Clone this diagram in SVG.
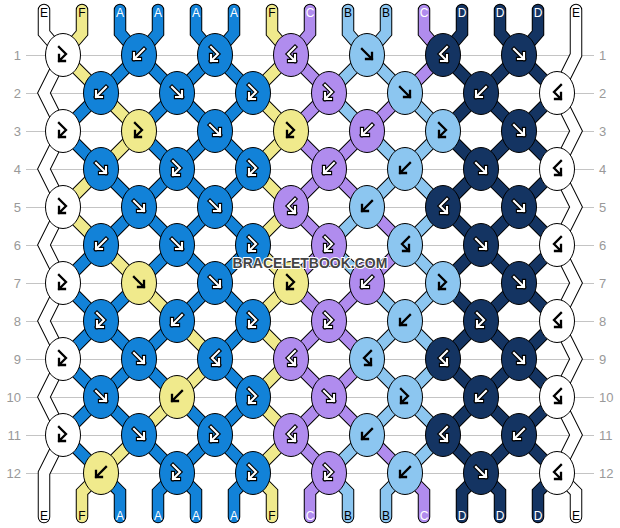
<svg xmlns="http://www.w3.org/2000/svg" xmlns:xlink="http://www.w3.org/1999/xlink" width="620" height="528" viewBox="0 0 620 528">
<style>
.grid{stroke:#c4c4c4;stroke-width:1;fill:none}
.num{font-family:"Liberation Sans",Arial,sans-serif;font-size:13px;fill:#999}
.o{fill:none;stroke:#000;stroke-width:12.5;stroke-linejoin:miter;stroke-linecap:round}
.s{fill:none;stroke-width:10.5;stroke-linejoin:miter;stroke-linecap:round}
.cE{stroke:#ffffff}.cF{stroke:#F0EA8C}.cA{stroke:#1282D8}.cB{stroke:#8CC6F0}.cC{stroke:#B08CEE}.cD{stroke:#143462}
.kE{fill:#ffffff}.kF{fill:#F0EA8C}.kA{fill:#1282D8}.kB{fill:#8CC6F0}.kC{fill:#B08CEE}.kD{fill:#143462}
.ab{fill:none;stroke:#000;stroke-width:2.3;stroke-linecap:square;stroke-linejoin:miter}
.ao{fill:none;stroke:#000;stroke-width:4.3;stroke-linecap:square;stroke-linejoin:miter}
.aw{fill:none;stroke:#fff;stroke-width:2.1;stroke-linecap:square;stroke-linejoin:miter}
.lb{font-family:"Liberation Sans",Arial,sans-serif;font-size:12px;text-anchor:middle}
.lk{fill:#000}.lw{fill:#fff}
.wm{font-family:"Liberation Sans",Arial,sans-serif;font-weight:bold;font-size:14px;text-anchor:middle;fill:#444;stroke:#fff;stroke-width:2;paint-order:stroke;stroke-linejoin:round}
</style>
<defs>
<ellipse id="ov" rx="17.5" ry="21.5" stroke="#000" stroke-width="1"/>
<path id="f" d="M-5 -6L5 4M5 -2V4H-1"/>
<path id="b" d="M5 -6L-5 4M-5 -2V4H1"/>
<path id="fb" d="M-4 -8L3 -1L-4 6M-4 0V6H2"/>
<path id="bf" d="M4 -8L-3 -1L4 6M4 0V6H-2"/>
<g id="Kf"><use href="#f" class="ab"/></g>
<g id="Kb"><use href="#b" class="ab"/></g>
<g id="Kfb"><use href="#fb" class="ab"/></g>
<g id="Kbf"><use href="#bf" class="ab"/></g>
<g id="Wf"><use href="#f" class="ao"/><use href="#f" class="aw"/></g>
<g id="Wb"><use href="#b" class="ao"/><use href="#b" class="aw"/></g>
<g id="Wfb"><use href="#fb" class="ao"/><use href="#fb" class="aw"/></g>
<g id="Wbf"><use href="#bf" class="ao"/><use href="#bf" class="aw"/></g>
</defs>
<rect width="620" height="528" fill="#fff"/>
<g id="grid">
<path class="grid" d="M26 55.5H594M26 93.5H594M26 131.5H594M26 169.5H594M26 207.5H594M26 245.5H594M26 283.5H594M26 321.5H594M26 359.5H594M26 397.5H594M26 435.5H594M26 473.5H594"/>
<g class="num" text-anchor="end">
<text x="21" y="60">1</text><text x="21" y="98">2</text><text x="21" y="136">3</text><text x="21" y="174">4</text><text x="21" y="212">5</text><text x="21" y="250">6</text><text x="21" y="288">7</text><text x="21" y="326">8</text><text x="21" y="364">9</text><text x="21" y="402">10</text><text x="21" y="440">11</text><text x="21" y="478">12</text>
</g>
<g class="num">
<text x="599" y="60">1</text><text x="599" y="98">2</text><text x="599" y="136">3</text><text x="599" y="174">4</text><text x="599" y="212">5</text><text x="599" y="250">6</text><text x="599" y="288">7</text><text x="599" y="326">8</text><text x="599" y="364">9</text><text x="599" y="402">10</text><text x="599" y="440">11</text><text x="599" y="478">12</text>
</g>
</g>
<g id="connectors">
<g class="o">
<path d="M44 10V33L63 55L44 93L63 131L44 169L63 207L44 245L63 283L44 321L63 359L44 397L63 435L44 473V517"/>
<path d="M82 10V33L63 55L101 93L139 131L101 169L63 207L101 245L139 283L177 321L215 359L177 397L139 435L101 473L82 492V517"/>
<path d="M120 10V33L139 55L177 93L215 131L253 169L215 207L177 245L139 283L101 321L139 359L177 397L215 435L177 473L196 492V517"/>
<path d="M158 10V33L139 55L101 93L63 131L101 169L139 207L177 245L215 283L253 321L215 359L253 397L215 435L253 473L234 492V517"/>
<path d="M196 10V33L215 55L177 93L139 131L177 169L139 207L101 245L63 283L101 321L63 359L101 397L139 435L177 473L158 492V517"/>
<path d="M234 10V33L215 55L253 93L215 131L177 169L215 207L253 245L215 283L177 321L139 359L101 397L63 435L101 473L120 492V517"/>
<path d="M272 10V33L291 55L253 93L291 131L253 169L291 207L253 245L291 283L253 321L291 359L253 397L291 435L253 473L272 492V517"/>
<path d="M310 10V33L291 55L329 93L291 131L329 169L367 207L405 245L367 283L329 321L367 359L329 397L291 435L329 473L310 492V517"/>
<path d="M348 10V33L367 55L405 93L443 131L405 169L367 207L329 245L367 283L405 321L443 359L405 397L443 435L405 473L386 492V517"/>
<path d="M386 10V33L367 55L329 93L367 131L405 169L443 207L405 245L443 283L405 321L367 359L405 397L367 435L329 473L348 492V517"/>
<path d="M424 10V33L443 55L405 93L367 131L329 169L291 207L329 245L291 283L329 321L291 359L329 397L367 435L405 473L424 492V517"/>
<path d="M462 10V33L443 55L481 93L519 131L557 169L519 207L481 245L443 283L481 321L443 359L481 397L519 435L557 473L538 492V517"/>
<path d="M500 10V33L519 55L557 93L519 131L481 169L443 207L481 245L519 283L557 321L519 359L481 397L443 435L481 473L500 492V517"/>
<path d="M538 10V33L519 55L481 93L443 131L481 169L519 207L557 245L519 283L481 321L519 359L557 397L519 435L481 473L462 492V517"/>
<path d="M576 10V55L557 93L576 131L557 169L576 207L557 245L576 283L557 321L576 359L557 397L576 435L557 473L576 492V517"/>
</g>
<path class="s cE" d="M44 10V33L63 55L44 93L63 131L44 169L63 207L44 245L63 283L44 321L63 359L44 397L63 435L44 473V517"/>
<path class="s cF" d="M82 10V33L63 55L101 93L139 131L101 169L63 207L101 245L139 283L177 321L215 359L177 397L139 435L101 473L82 492V517"/>
<path class="s cA" d="M120 10V33L139 55L177 93L215 131L253 169L215 207L177 245L139 283L101 321L139 359L177 397L215 435L177 473L196 492V517"/>
<path class="s cA" d="M158 10V33L139 55L101 93L63 131L101 169L139 207L177 245L215 283L253 321L215 359L253 397L215 435L253 473L234 492V517"/>
<path class="s cA" d="M196 10V33L215 55L177 93L139 131L177 169L139 207L101 245L63 283L101 321L63 359L101 397L139 435L177 473L158 492V517"/>
<path class="s cA" d="M234 10V33L215 55L253 93L215 131L177 169L215 207L253 245L215 283L177 321L139 359L101 397L63 435L101 473L120 492V517"/>
<path class="s cF" d="M272 10V33L291 55L253 93L291 131L253 169L291 207L253 245L291 283L253 321L291 359L253 397L291 435L253 473L272 492V517"/>
<path class="s cC" d="M310 10V33L291 55L329 93L291 131L329 169L367 207L405 245L367 283L329 321L367 359L329 397L291 435L329 473L310 492V517"/>
<path class="s cB" d="M348 10V33L367 55L405 93L443 131L405 169L367 207L329 245L367 283L405 321L443 359L405 397L443 435L405 473L386 492V517"/>
<path class="s cB" d="M386 10V33L367 55L329 93L367 131L405 169L443 207L405 245L443 283L405 321L367 359L405 397L367 435L329 473L348 492V517"/>
<path class="s cC" d="M424 10V33L443 55L405 93L367 131L329 169L291 207L329 245L291 283L329 321L291 359L329 397L367 435L405 473L424 492V517"/>
<path class="s cD" d="M462 10V33L443 55L481 93L519 131L557 169L519 207L481 245L443 283L481 321L443 359L481 397L519 435L557 473L538 492V517"/>
<path class="s cD" d="M500 10V33L519 55L557 93L519 131L481 169L443 207L481 245L519 283L557 321L519 359L481 397L443 435L481 473L500 492V517"/>
<path class="s cD" d="M538 10V33L519 55L481 93L443 131L481 169L519 207L557 245L519 283L481 321L519 359L557 397L519 435L481 473L462 492V517"/>
<path class="s cE" d="M576 10V55L557 93L576 131L557 169L576 207L557 245L576 283L557 321L576 359L557 397L576 435L557 473L576 492V517"/>
</g>
<g id="labels" class="lb">
<text class="lk" x="44" y="17">E</text><text class="lk" x="82" y="17">F</text><text class="lw" x="120" y="17">A</text><text class="lw" x="158" y="17">A</text><text class="lw" x="196" y="17">A</text><text class="lw" x="234" y="17">A</text><text class="lk" x="272" y="17">F</text><text class="lw" x="310" y="17">C</text><text class="lk" x="348" y="17">B</text><text class="lk" x="386" y="17">B</text><text class="lw" x="424" y="17">C</text><text class="lw" x="462" y="17">D</text><text class="lw" x="500" y="17">D</text><text class="lw" x="538" y="17">D</text><text class="lk" x="576" y="17">E</text>
<text class="lk" x="44" y="520">E</text><text class="lk" x="82" y="520">F</text><text class="lw" x="120" y="520">A</text><text class="lw" x="158" y="520">A</text><text class="lw" x="196" y="520">A</text><text class="lw" x="234" y="520">A</text><text class="lk" x="272" y="520">F</text><text class="lw" x="310" y="520">C</text><text class="lk" x="348" y="520">B</text><text class="lk" x="386" y="520">B</text><text class="lw" x="424" y="520">C</text><text class="lw" x="462" y="520">D</text><text class="lw" x="500" y="520">D</text><text class="lw" x="538" y="520">D</text><text class="lk" x="576" y="520">E</text>
</g>
<g id="knots">
<g id="r1k1" transform="translate(63 55)"><use href="#ov" class="kE"/><use href="#Kfb"/></g>
<g id="r1k2" transform="translate(139 55)"><use href="#ov" class="kA"/><use href="#Wb"/></g>
<g id="r1k3" transform="translate(215 55)"><use href="#ov" class="kA"/><use href="#Wfb"/></g>
<g id="r1k4" transform="translate(291 55)"><use href="#ov" class="kC"/><use href="#Wbf"/></g>
<g id="r1k5" transform="translate(367 55)"><use href="#ov" class="kB"/><use href="#Kf"/></g>
<g id="r1k6" transform="translate(443 55)"><use href="#ov" class="kD"/><use href="#Wbf"/></g>
<g id="r1k7" transform="translate(519 55)"><use href="#ov" class="kD"/><use href="#Wf"/></g>

<g id="r2k1" transform="translate(101 93)"><use href="#ov" class="kA"/><use href="#Wb"/></g>
<g id="r2k2" transform="translate(177 93)"><use href="#ov" class="kA"/><use href="#Wf"/></g>
<g id="r2k3" transform="translate(253 93)"><use href="#ov" class="kA"/><use href="#Wfb"/></g>
<g id="r2k4" transform="translate(329 93)"><use href="#ov" class="kC"/><use href="#Wfb"/></g>
<g id="r2k5" transform="translate(405 93)"><use href="#ov" class="kB"/><use href="#Kf"/></g>
<g id="r2k6" transform="translate(481 93)"><use href="#ov" class="kD"/><use href="#Wb"/></g>
<g id="r2k7" transform="translate(557 93)"><use href="#ov" class="kE"/><use href="#Kbf"/></g>

<g id="r3k1" transform="translate(63 131)"><use href="#ov" class="kE"/><use href="#Kfb"/></g>
<g id="r3k2" transform="translate(139 131)"><use href="#ov" class="kF"/><use href="#Kfb"/></g>
<g id="r3k3" transform="translate(215 131)"><use href="#ov" class="kA"/><use href="#Wf"/></g>
<g id="r3k4" transform="translate(291 131)"><use href="#ov" class="kF"/><use href="#Kfb"/></g>
<g id="r3k5" transform="translate(367 131)"><use href="#ov" class="kC"/><use href="#Wb"/></g>
<g id="r3k6" transform="translate(443 131)"><use href="#ov" class="kB"/><use href="#Kfb"/></g>
<g id="r3k7" transform="translate(519 131)"><use href="#ov" class="kD"/><use href="#Wf"/></g>

<g id="r4k1" transform="translate(101 169)"><use href="#ov" class="kA"/><use href="#Wf"/></g>
<g id="r4k2" transform="translate(177 169)"><use href="#ov" class="kA"/><use href="#Wfb"/></g>
<g id="r4k3" transform="translate(253 169)"><use href="#ov" class="kA"/><use href="#Wfb"/></g>
<g id="r4k4" transform="translate(329 169)"><use href="#ov" class="kC"/><use href="#Wb"/></g>
<g id="r4k5" transform="translate(405 169)"><use href="#ov" class="kB"/><use href="#Kb"/></g>
<g id="r4k6" transform="translate(481 169)"><use href="#ov" class="kD"/><use href="#Wf"/></g>
<g id="r4k7" transform="translate(557 169)"><use href="#ov" class="kE"/><use href="#Kbf"/></g>

<g id="r5k1" transform="translate(63 207)"><use href="#ov" class="kE"/><use href="#Kfb"/></g>
<g id="r5k2" transform="translate(139 207)"><use href="#ov" class="kA"/><use href="#Wf"/></g>
<g id="r5k3" transform="translate(215 207)"><use href="#ov" class="kA"/><use href="#Wf"/></g>
<g id="r5k4" transform="translate(291 207)"><use href="#ov" class="kC"/><use href="#Wbf"/></g>
<g id="r5k5" transform="translate(367 207)"><use href="#ov" class="kB"/><use href="#Kb"/></g>
<g id="r5k6" transform="translate(443 207)"><use href="#ov" class="kD"/><use href="#Wbf"/></g>
<g id="r5k7" transform="translate(519 207)"><use href="#ov" class="kD"/><use href="#Wf"/></g>

<g id="r6k1" transform="translate(101 245)"><use href="#ov" class="kA"/><use href="#Wb"/></g>
<g id="r6k2" transform="translate(177 245)"><use href="#ov" class="kA"/><use href="#Wf"/></g>
<g id="r6k3" transform="translate(253 245)"><use href="#ov" class="kA"/><use href="#Wfb"/></g>
<g id="r6k4" transform="translate(329 245)"><use href="#ov" class="kC"/><use href="#Wfb"/></g>
<g id="r6k5" transform="translate(405 245)"><use href="#ov" class="kB"/><use href="#Kbf"/></g>
<g id="r6k6" transform="translate(481 245)"><use href="#ov" class="kD"/><use href="#Wf"/></g>
<g id="r6k7" transform="translate(557 245)"><use href="#ov" class="kE"/><use href="#Kbf"/></g>

<g id="r7k1" transform="translate(63 283)"><use href="#ov" class="kE"/><use href="#Kfb"/></g>
<g id="r7k2" transform="translate(139 283)"><use href="#ov" class="kF"/><use href="#Kf"/></g>
<g id="r7k3" transform="translate(215 283)"><use href="#ov" class="kA"/><use href="#Wf"/></g>
<g id="r7k4" transform="translate(291 283)"><use href="#ov" class="kF"/><use href="#Kfb"/></g>
<g id="r7k5" transform="translate(367 283)"><use href="#ov" class="kC"/><use href="#Wb"/></g>
<g id="r7k6" transform="translate(443 283)"><use href="#ov" class="kB"/><use href="#Kfb"/></g>
<g id="r7k7" transform="translate(519 283)"><use href="#ov" class="kD"/><use href="#Wf"/></g>

<g id="r8k1" transform="translate(101 321)"><use href="#ov" class="kA"/><use href="#Wfb"/></g>
<g id="r8k2" transform="translate(177 321)"><use href="#ov" class="kA"/><use href="#Wb"/></g>
<g id="r8k3" transform="translate(253 321)"><use href="#ov" class="kA"/><use href="#Wfb"/></g>
<g id="r8k4" transform="translate(329 321)"><use href="#ov" class="kC"/><use href="#Wfb"/></g>
<g id="r8k5" transform="translate(405 321)"><use href="#ov" class="kB"/><use href="#Kb"/></g>
<g id="r8k6" transform="translate(481 321)"><use href="#ov" class="kD"/><use href="#Wfb"/></g>
<g id="r8k7" transform="translate(557 321)"><use href="#ov" class="kE"/><use href="#Kbf"/></g>

<g id="r9k1" transform="translate(63 359)"><use href="#ov" class="kE"/><use href="#Kfb"/></g>
<g id="r9k2" transform="translate(139 359)"><use href="#ov" class="kA"/><use href="#Wf"/></g>
<g id="r9k3" transform="translate(215 359)"><use href="#ov" class="kA"/><use href="#Wbf"/></g>
<g id="r9k4" transform="translate(291 359)"><use href="#ov" class="kC"/><use href="#Wbf"/></g>
<g id="r9k5" transform="translate(367 359)"><use href="#ov" class="kB"/><use href="#Kbf"/></g>
<g id="r9k6" transform="translate(443 359)"><use href="#ov" class="kD"/><use href="#Wbf"/></g>
<g id="r9k7" transform="translate(519 359)"><use href="#ov" class="kD"/><use href="#Wf"/></g>

<g id="r10k1" transform="translate(101 397)"><use href="#ov" class="kA"/><use href="#Wf"/></g>
<g id="r10k2" transform="translate(177 397)"><use href="#ov" class="kF"/><use href="#Kb"/></g>
<g id="r10k3" transform="translate(253 397)"><use href="#ov" class="kA"/><use href="#Wfb"/></g>
<g id="r10k4" transform="translate(329 397)"><use href="#ov" class="kC"/><use href="#Wf"/></g>
<g id="r10k5" transform="translate(405 397)"><use href="#ov" class="kB"/><use href="#Kfb"/></g>
<g id="r10k6" transform="translate(481 397)"><use href="#ov" class="kD"/><use href="#Wb"/></g>
<g id="r10k7" transform="translate(557 397)"><use href="#ov" class="kE"/><use href="#Kbf"/></g>

<g id="r11k1" transform="translate(63 435)"><use href="#ov" class="kE"/><use href="#Kfb"/></g>
<g id="r11k2" transform="translate(139 435)"><use href="#ov" class="kA"/><use href="#Wf"/></g>
<g id="r11k3" transform="translate(215 435)"><use href="#ov" class="kA"/><use href="#Wfb"/></g>
<g id="r11k4" transform="translate(291 435)"><use href="#ov" class="kC"/><use href="#Wbf"/></g>
<g id="r11k5" transform="translate(367 435)"><use href="#ov" class="kB"/><use href="#Kb"/></g>
<g id="r11k6" transform="translate(443 435)"><use href="#ov" class="kD"/><use href="#Wbf"/></g>
<g id="r11k7" transform="translate(519 435)"><use href="#ov" class="kD"/><use href="#Wb"/></g>

<g id="r12k1" transform="translate(101 473)"><use href="#ov" class="kF"/><use href="#Kb"/></g>
<g id="r12k2" transform="translate(177 473)"><use href="#ov" class="kA"/><use href="#Wfb"/></g>
<g id="r12k3" transform="translate(253 473)"><use href="#ov" class="kA"/><use href="#Wfb"/></g>
<g id="r12k4" transform="translate(329 473)"><use href="#ov" class="kC"/><use href="#Wfb"/></g>
<g id="r12k5" transform="translate(405 473)"><use href="#ov" class="kB"/><use href="#Kb"/></g>
<g id="r12k6" transform="translate(481 473)"><use href="#ov" class="kD"/><use href="#Wf"/></g>
<g id="r12k7" transform="translate(557 473)"><use href="#ov" class="kE"/><use href="#Kbf"/></g>
</g>
<text class="wm" x="310" y="268">BRACELETBOOK.COM</text>
</svg>
